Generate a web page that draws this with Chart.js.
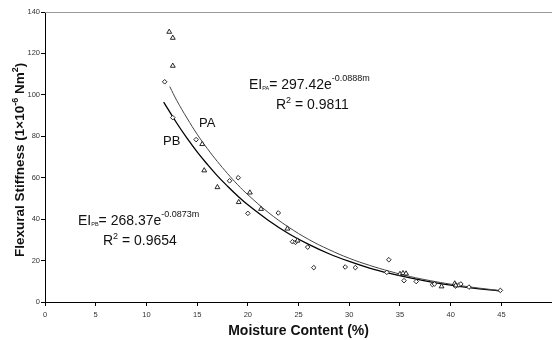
<!DOCTYPE html>
<html>
<head>
<meta charset="utf-8">
<script src="https://cdn.jsdelivr.net/npm/chart.js@4"></script>
<style>
  body { margin: 0; overflow: hidden; background: #fff; }
  #wrap { width: 557px; height: 340px; }
</style>
</head>
<body>
<div id="wrap"><canvas id="chart"></canvas></div>
<script>
// PA samples (triangles)
const paMoisture = [12.25, 12.6, 12.6, 15.5, 15.7, 17.0, 19.1, 20.2, 21.3, 23.9, 24.9, 35.0, 35.3, 35.6, 39.1, 40.4, 40.5];
const paStiffness = [130.4, 127.5, 114, 76.2, 63.5, 55.4, 48.2, 52.8, 44.9, 35.4, 29.6, 13.5, 13.9, 13.7, 7.5, 8.9, 8.0];

// PB samples (diamonds)
const pbMoisture = [11.8, 12.6, 14.9, 18.2, 19.05, 20.0, 23.0, 24.4, 24.7, 25.9, 26.5, 29.6, 30.6, 33.7, 33.9, 35.4, 36.6, 38.2, 38.4, 40.5, 40.8, 41.0, 41.8, 44.9];
const pbStiffness = [106.3, 89.0, 78.4, 58.5, 60.0, 42.8, 43.0, 29.1, 28.8, 26.5, 16.6, 16.9, 16.6, 14.3, 20.4, 10.3, 9.9, 8.4, 8.7, 7.7, 8.2, 8.7, 7.2, 5.6];

// trend curves
const paFitMoisture = [12.3, 13, 14, 15, 16, 17, 18, 19, 20, 22, 24, 26, 28, 30, 32, 34, 36, 38, 40, 42, 44.9];
const paFitStiffness = [104, 97.2, 88.8, 81, 74.1, 67.8, 62, 56.6, 51.8, 43.3, 36.2, 30.2, 25.3, 21.1, 17.7, 14.8, 12.3, 10.3, 8.6, 7.2, 5.5];
const pbFitMoisture = [11.7, 13, 14, 15, 16, 17, 18, 19, 20, 22, 24, 26, 28, 30, 32, 34, 36, 38, 40, 42, 44.9];
const pbFitStiffness = [96.5, 86.3, 79.1, 72.5, 66.5, 60.9, 55.9, 51.2, 46.9, 39.5, 33.1, 27.8, 23.3, 19.6, 16.4, 13.8, 11.6, 9.7, 8.1, 6.8, 5.3];

const xTicks = [0, 5, 10, 15, 20, 25, 30, 35, 40, 45];
const yTicks = [0, 20, 40, 60, 80, 100, 120, 140];

const FONT = '"Liberation Sans", Arial, sans-serif';

const toPoints = (xs, ys) => xs.map((x, i) => ({ x: x, y: ys[i] }));

// draws a row of text pieces, for sub/superscripts
function drawRuns(ctx, x, y, runs, rotate) {
  ctx.save();
  ctx.translate(x, y);
  if (rotate) ctx.rotate(-Math.PI / 2);
  ctx.fillStyle = '#111';
  ctx.textBaseline = 'alphabetic';
  ctx.textAlign = 'left';
  let cx = 0;
  runs.forEach(r => {
    ctx.font = (r.bold ? 'bold ' : '') + r.size + 'px ' + FONT;
    ctx.fillText(r.text, cx, r.dy || 0);
    cx += ctx.measureText(r.text).width;
  });
  ctx.restore();
}

const labelsPlugin = {
  id: 'labels',
  afterDraw(chart) {
    const ctx = chart.ctx;
    const area = chart.chartArea;

    // grey frame line on top
    ctx.save();
    ctx.strokeStyle = '#999';
    ctx.lineWidth = 1;
    ctx.beginPath();
    ctx.moveTo(area.left, area.top + 0.5);
    ctx.lineTo(area.right, area.top + 0.5);
    ctx.stroke();
    ctx.restore();

    drawRuns(ctx, 249, 89, [
      { text: 'EI', size: 14 },
      { text: 'PA', size: 5.5, dy: 1 },
      { text: '= 297.42e', size: 14 },
      { text: '-0.0888m', size: 9, dy: -8 },
    ]);
    drawRuns(ctx, 276, 109, [
      { text: 'R', size: 14 },
      { text: '2', size: 9, dy: -6 },
      { text: ' = 0.9811', size: 14 },
    ]);
    drawRuns(ctx, 78, 225, [
      { text: 'EI', size: 14 },
      { text: 'PB', size: 5.5, dy: 1 },
      { text: '= 268.37e', size: 14 },
      { text: '-0.0873m', size: 9, dy: -8 },
    ]);
    drawRuns(ctx, 103, 245, [
      { text: 'R', size: 14 },
      { text: '2', size: 9, dy: -6 },
      { text: ' = 0.9654', size: 14 },
    ]);
    drawRuns(ctx, 199, 127, [{ text: 'PA', size: 13 }]);
    drawRuns(ctx, 163, 145, [{ text: 'PB', size: 13 }]);

    // y axis title
    drawRuns(ctx, 24, 257, [
      { text: 'Flexural Stiffness (1\u00d710', size: 13.5, bold: true },
      { text: '-6', size: 9, bold: true, dy: -6 },
      { text: ' Nm', size: 13.5, bold: true },
      { text: '2', size: 9, bold: true, dy: -6 },
      { text: ')', size: 13.5, bold: true },
    ], true);
  },
};

new Chart(document.getElementById('chart'), {
  type: 'scatter',
  data: {
    datasets: [
      {
        label: 'PA',
        data: toPoints(paMoisture, paStiffness),
        pointStyle: 'triangle',
        pointRadius: 2.8,
        borderColor: '#111',
        backgroundColor: '#fff',
        borderWidth: 0.9,
      },
      {
        label: 'PB',
        data: toPoints(pbMoisture, pbStiffness),
        pointStyle: 'rectRot',
        pointRadius: 2.3,
        borderColor: '#111',
        backgroundColor: '#fff',
        borderWidth: 0.9,
      },
      {
        label: 'PA fit',
        data: toPoints(paFitMoisture, paFitStiffness),
        showLine: true,
        pointRadius: 0,
        borderColor: '#444',
        borderWidth: 1,
        tension: 0.4,
      },
      {
        label: 'PB fit',
        data: toPoints(pbFitMoisture, pbFitStiffness),
        showLine: true,
        pointRadius: 0,
        borderColor: '#000',
        borderWidth: 1.3,
        tension: 0.4,
      },
    ],
  },
  options: {
    responsive: true,
    maintainAspectRatio: false,
    animation: false,
    layout: { padding: { top: 12, right: 0, left: 0, bottom: 0 } },
    plugins: {
      legend: { display: false },
      tooltip: { enabled: false },
    },
    scales: {
      x: {
        type: 'linear',
        min: 0,
        max: 50,
        afterBuildTicks: scale => { scale.ticks = xTicks.map(v => ({ value: v })); },
        afterFit: scale => { scale.height = 38; },
        grid: { drawOnChartArea: false, drawTicks: true, tickLength: 4, color: '#000' },
        border: { color: '#000', width: 1 },
        ticks: { font: { family: FONT, size: 7.5 }, color: '#333', padding: 4, maxRotation: 0 },
        title: {
          display: true,
          text: 'Moisture Content (%)',
          font: { family: FONT, size: 14, weight: 'bold' },
          color: '#111',
          padding: { top: 8, bottom: 0 },
        },
      },
      y: {
        min: 0,
        max: 140,
        afterBuildTicks: scale => { scale.ticks = yTicks.map(v => ({ value: v })); },
        afterFit: scale => { scale.width = 45; },
        grid: { drawOnChartArea: false, drawTicks: true, tickLength: 4, color: '#000' },
        border: { color: '#000', width: 1 },
        ticks: { font: { family: FONT, size: 7.5 }, color: '#333', padding: 1 },
      },
    },
  },
  plugins: [labelsPlugin],
});
</script>
</body>
</html>
